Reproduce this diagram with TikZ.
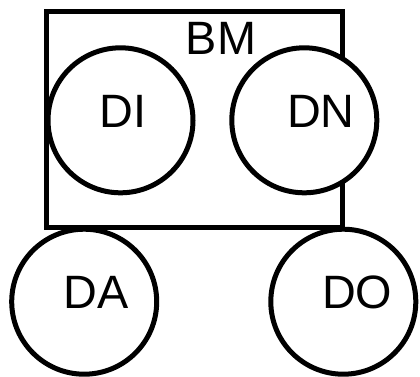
\documentclass[tikz,border=0pt]{standalone}
\usepackage{fontspec}
\setmainfont{Liberation Sans}
\begin{document}
\begin{tikzpicture}[x=1pt,y=-1pt,
  outline/.style={draw=black,line width=5pt,inner sep=0pt},
  ring/.style={outline,circle,fill=white,minimum size=145pt},
  frame/.style={outline,rectangle,minimum width=296pt,minimum height=216.5pt},
  tag/.style={anchor=base,inner sep=0pt,font=\fontsize{46.8}{50}\selectfont}]
\useasboundingbox (0,0) rectangle (420,376);
% enclosing block, then the circles painted over it
\node[frame] (bm) at (194.5,119.25) {};
\node[ring] (di) at (120.5,120.3) {};
\node[ring] (dn) at (304.3,120.3) {};
\node[ring] (da) at (84.2,301.7) {};
\node[ring] (do) at (343.3,301.7) {};
% labels
\node[tag] (bmt) at (221,54) {BM};
\node[tag] (dit) at (123.3,127.7) {DI};
\node[tag] (dnt) at (321,127.7) {DN};
\node[tag] (dat) at (96.3,308.3) {DA};
\node[tag] (dot) at (357.2,308.3) {DO};
\end{tikzpicture}
\end{document}
